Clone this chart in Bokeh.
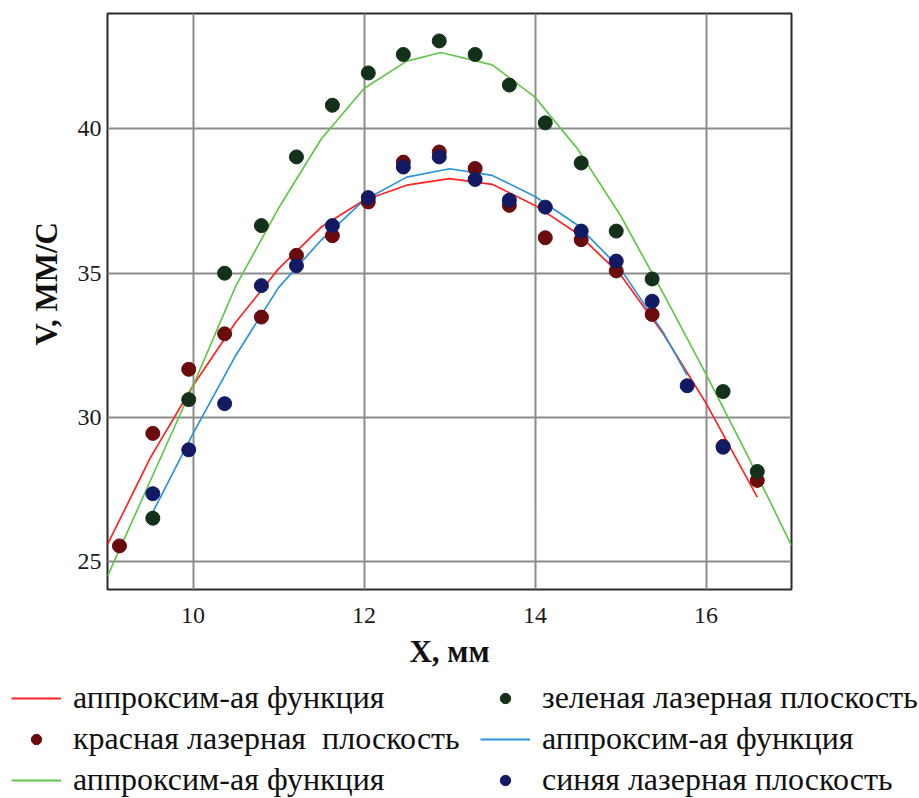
from bokeh.plotting import figure
from bokeh.models import Range1d, FixedTicker, Legend, LegendItem, Title
from bokeh.embed import file_html
from bokeh.resources import INLINE

# ---- measured points ----
red_x = [9.14, 9.53, 9.95, 10.37, 10.8, 11.21, 11.63, 12.05, 12.46, 12.88, 13.3, 13.7, 14.12, 14.54, 14.95, 15.37, 16.2, 16.6]
red_y = [25.55, 29.45, 31.67, 32.9, 33.48, 35.62, 36.3, 37.47, 38.85, 39.2, 38.63, 37.35, 36.23, 36.16, 35.08, 33.57, 29.0, 27.82]

green_x = [9.53, 9.95, 10.37, 10.8, 11.21, 11.63, 12.05, 12.46, 12.88, 13.3, 13.7, 14.12, 14.54, 14.95, 15.37, 16.2, 16.6]
green_y = [26.51, 30.62, 35.0, 36.65, 39.03, 40.82, 41.94, 42.58, 43.05, 42.58, 41.52, 40.21, 38.82, 36.46, 34.8, 30.9, 28.13]

blue_x = [9.53, 9.95, 10.37, 10.8, 11.21, 11.63, 12.05, 12.46, 12.88, 13.3, 13.7, 14.12, 14.54, 14.95, 15.37, 15.78, 16.2]
blue_y = [27.36, 28.88, 30.48, 34.57, 35.26, 36.65, 37.62, 38.68, 39.03, 38.25, 37.53, 37.29, 36.46, 35.42, 34.03, 31.1, 28.97]

# ---- approximating curves ----
red_fit_x = [9.0, 9.5, 10.0, 10.5, 11.0, 11.5, 12.0, 12.5, 13.0, 13.5, 14.0, 14.5, 15.0, 15.5, 16.0, 16.6]
red_fit_y = [25.6, 28.6, 31.1, 33.3, 35.15, 36.6, 37.53, 38.05, 38.28, 38.08, 37.35, 36.37, 34.95, 32.9, 30.5, 27.24]

green_fit_x = [9.0, 9.5, 10.0, 10.5, 11.0, 11.5, 12.0, 12.5, 12.9, 13.5, 14.0, 14.5, 15.0, 15.5, 16.0, 16.5, 17.0]
green_fit_y = [24.5, 27.8, 31.1, 34.55, 37.25, 39.65, 41.4, 42.35, 42.65, 42.22, 41.1, 39.3, 37.0, 34.3, 31.5, 28.6, 25.56]

blue_fit_x = [9.53, 10.0, 10.5, 11.0, 11.5, 12.0, 12.5, 13.0, 13.5, 14.0, 14.5, 15.0, 15.5, 15.78]
blue_fit_y = [26.72, 29.44, 32.15, 34.5, 36.15, 37.53, 38.33, 38.62, 38.39, 37.66, 36.66, 35.15, 32.95, 31.46]

x_ticks = [10, 12, 14, 16]
y_ticks = [25, 30, 35, 40]

x_title = "X, мм"
y_title = "V, ММ/С"
fit_label = "аппроксим-ая функция"
red_label = "красная лазерная  плоскость"
green_label = "зеленая лазерная плоскость"
blue_label = "синяя лазерная плоскость"

SERIF = "Liberation Serif"
RED_LINE, GREEN_LINE, BLUE_LINE = "#ff2222", "#62c64a", "#2b93db"
RED_PT, GREEN_PT, BLUE_PT = "#6a0c0e", "#13301a", "#111a63"

# ---------------- main chart ----------------
p = figure(frame_width=684, frame_height=576,
           x_range=Range1d(9, 17), y_range=Range1d(24.04, 44.0),
           output_backend="svg", toolbar_location=None,
           min_border_left=107, min_border_top=13, min_border_right=128,
           min_border_bottom=86)

p.outline_line_color = "#2a2a2a"
p.outline_line_width = 2

for ax in (p.xaxis[0], p.yaxis[0]):
    ax.major_tick_line_color = None
    ax.minor_tick_line_color = None
    ax.axis_line_color = None
    ax.major_label_text_font = SERIF
    ax.major_label_text_font_size = "24px"
    ax.major_label_text_color = "#1a1a1a"
    ax.axis_label_text_font = SERIF
    ax.axis_label_text_font_style = "bold"
    ax.axis_label_text_font_size = "31px"
    ax.axis_label_text_color = "#111111"

p.xaxis.ticker = FixedTicker(ticks=x_ticks)
p.yaxis.ticker = FixedTicker(ticks=y_ticks)
p.xaxis.axis_label = x_title
p.xaxis.major_label_standoff = 12
p.yaxis.major_label_standoff = 0
p.xaxis.axis_label_standoff = 8

# y-axis title as a side title so it can sit a little above centre, as in the original
p.add_layout(Title(text=y_title, align="left", offset=244, standoff=22,
                   text_font=SERIF, text_font_size="31px", text_font_style="bold",
                   text_color="#111111"), "left")

p.xgrid.grid_line_color = "#8c8c8c"
p.ygrid.grid_line_color = "#8c8c8c"
p.xgrid.grid_line_width = 2
p.ygrid.grid_line_width = 2

p.line(red_fit_x, red_fit_y, line_color=RED_LINE, line_width=1.7)
p.line(green_fit_x, green_fit_y, line_color=GREEN_LINE, line_width=1.7)
p.line(blue_fit_x, blue_fit_y, line_color=BLUE_LINE, line_width=1.7)
p.scatter(red_x, red_y, size=14, marker="circle", fill_color=RED_PT, line_color=RED_PT)
p.scatter(green_x, green_y, size=14, marker="circle", fill_color=GREEN_PT, line_color=GREEN_PT)
p.scatter(blue_x, blue_y, size=14, marker="circle", fill_color=BLUE_PT, line_color=BLUE_PT)

# ---------------- legend strip below ----------------
# same series, drawn in a strip whose ranges keep the data out of view;
# only its legend shows.
lg = figure(width=919, height=123, x_range=Range1d(0, 1), y_range=Range1d(0, 1),
            output_backend="svg", toolbar_location=None,
            x_axis_location=None, y_axis_location=None, min_border=0)
lg.outline_line_color = None
lg.xgrid.visible = False
lg.ygrid.visible = False

l_red_fit = lg.line(red_fit_x, red_fit_y, line_color=RED_LINE, line_width=2)
l_red = lg.scatter(red_x, red_y, marker="circle", fill_color=RED_PT, line_color=RED_PT)
l_green_fit = lg.line(green_fit_x, green_fit_y, line_color=GREEN_LINE, line_width=2)
l_green = lg.scatter(green_x, green_y, marker="circle", fill_color=GREEN_PT, line_color=GREEN_PT)
l_blue_fit = lg.line(blue_fit_x, blue_fit_y, line_color=BLUE_LINE, line_width=2)
l_blue = lg.scatter(blue_x, blue_y, marker="circle", fill_color=BLUE_PT, line_color=BLUE_PT)

legend = Legend(items=[
    LegendItem(label=fit_label, renderers=[l_red_fit]),
    LegendItem(label=red_label, renderers=[l_red]),
    LegendItem(label=fit_label, renderers=[l_green_fit]),
    LegendItem(label=green_label, renderers=[l_green]),
    LegendItem(label=fit_label, renderers=[l_blue_fit]),
    LegendItem(label=blue_label, renderers=[l_blue]),
], location=(11, 0), orientation="vertical", nrows=3)
legend.label_text_font = SERIF
legend.label_text_font_size = "32px"
legend.label_text_color = "#111111"
legend.glyph_width = 50
legend.glyph_height = 26
legend.label_height = 26
legend.label_width = 403
legend.label_standoff = 12
legend.spacing = 4
legend.padding = 0
legend.margin = 0
legend.border_line_alpha = 0
legend.background_fill_alpha = 0
lg.add_layout(legend, "center")

open("out.html", "w").write(file_html([p, lg], INLINE))
